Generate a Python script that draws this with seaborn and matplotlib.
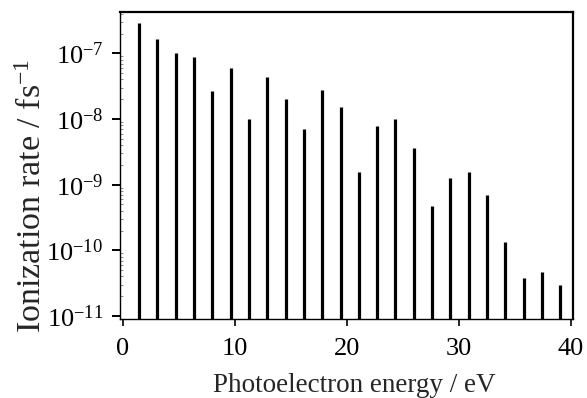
import seaborn as sns
import pandas as pd
import matplotlib.pyplot as plt
from matplotlib.ticker import LogLocator, MultipleLocator

# photoelectron peaks (ATI comb), energies in eV and rates in fs^-1
energy = [1.43, 3.07, 4.70, 6.34, 7.97, 9.61, 11.24, 12.88, 14.51, 16.15, 17.78, 19.42,
          21.05, 22.69, 24.32, 25.96, 27.59, 29.23, 30.86, 32.50, 34.13, 35.77, 37.40, 39.04]
rate = [2.9e-7, 1.65e-7, 1.02e-7, 8.9e-8, 2.67e-8, 6.0e-8, 1.0e-8, 4.4e-8, 2.0e-8, 7.1e-9, 2.8e-8, 1.5e-8,
        1.55e-9, 7.9e-9, 1.0e-8, 3.6e-9, 4.7e-10, 1.28e-9, 1.55e-9, 6.9e-10, 1.35e-10, 3.8e-11, 4.6e-11, 3.0e-11]

df = pd.DataFrame({"Energy": energy, "Rate": rate})

sns.set_style("ticks")
plt.rcParams['font.family'] = ['Liberation Serif', 'DejaVu Serif']
plt.rcParams['mathtext.fontset'] = 'custom'
plt.rcParams['mathtext.rm'] = 'Liberation Serif'
plt.rcParams['mathtext.it'] = 'Liberation Serif:italic'

fig = plt.figure(figsize=(5.87, 3.98), dpi=100)
ax = fig.add_axes([0.2044, 0.1985, 0.977 - 0.2044, 0.9698 - 0.1985])

ymin, ymax = 9.0e-12, 4.26e-7
ax.set_yscale('log')
ax.set_ylim(ymin, ymax)
ax.set_xlim(-0.27, 40.22)

ax.vlines(df["Energy"], ymin, df["Rate"], color='black', linewidth=2.3)

ax.xaxis.set_major_locator(MultipleLocator(10))
ax.yaxis.set_major_locator(LogLocator(base=10, numticks=20))
ax.yaxis.set_minor_locator(LogLocator(base=10, subs=range(2, 10), numticks=20))

ax.tick_params(axis='both', which='major', direction='out', labelsize=19, colors='black')
ax.tick_params(axis='y', which='major', length=6, width=1.4, pad=6)
ax.tick_params(axis='x', which='major', length=5, width=1.2, pad=9)
ax.tick_params(axis='y', which='minor', direction='in', length=2, width=0.6, color='#777777')

for side in ['top', 'right']:
    ax.spines[side].set_linewidth(1.6)
for side in ['left', 'bottom']:
    ax.spines[side].set_linewidth(1.0)
for s in ax.spines.values():
    s.set_color('black')

ax.set_xlabel('Photoelectron energy / eV', fontsize=19.5)
ax.set_ylabel('Ionization rate / fs$^{-1}$', fontsize=24.5)
ax.xaxis.set_label_coords(0.516, -0.175)
ax.yaxis.set_label_coords(-0.158, 0.40)

fig.savefig('out.png', dpi=100)
